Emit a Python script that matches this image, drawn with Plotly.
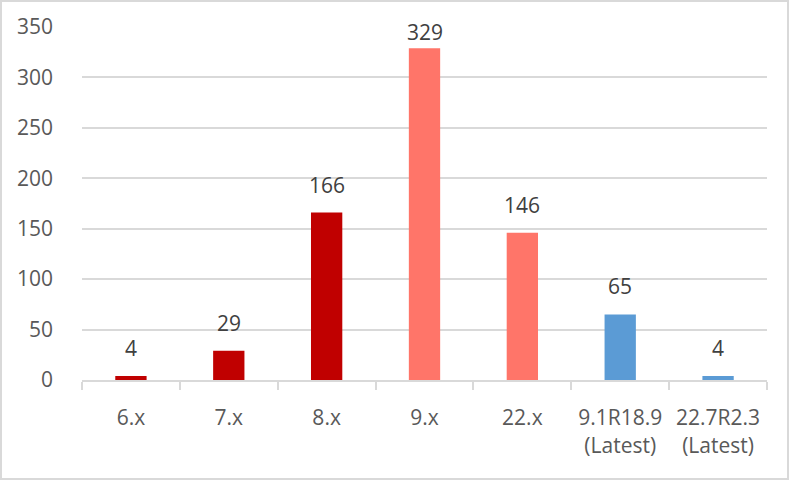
import plotly.graph_objects as go

categories = ["6.x", "7.x", "8.x", "9.x", "22.x", "9.1R18.9<br>(Latest)", "22.7R2.3<br>(Latest)"]
values = [4, 29, 166, 329, 146, 65, 4]
colors = ["#C00000", "#C00000", "#C00000", "#FF7569", "#FF7569", "#5B9BD5", "#5B9BD5"]
y_ticks = [0, 50, 100, 150, 200, 250, 300, 350]

W, H = 789, 480
ml, mr, mt, mb = 82, 22, 27, 100
FS = 21
Y_MAX = 350

fig = go.Figure(go.Bar(
    x=categories, y=values, marker_color=colors, marker_line_width=0,
    cliponaxis=False, hoverinfo="x+y",
))

pw, ph = W - ml - mr, H - mt - mb
ppu = ph / Y_MAX
for c, v in zip(categories, values):
    # keep labels near the plot top like the source chart does
    shift = min(12, (Y_MAX - v) * ppu - 21)
    fig.add_annotation(x=c, y=v, text=str(v), showarrow=False, yanchor="bottom",
                       yshift=shift, font=dict(size=FS, color="#404040"))

fig.add_shape(type="rect", xref="paper", yref="paper",
              x0=(-ml + 1) / pw, x1=(pw + mr - 1) / pw,
              y0=(-mb + 1) / ph, y1=(ph + mt - 1) / ph,
              line=dict(color="#D9D9D9", width=2), layer="below")

fig.update_layout(
    width=W, height=H, margin=dict(l=ml, r=mr, t=mt, b=mb),
    paper_bgcolor="white", plot_bgcolor="white",
    font=dict(family="Open Sans", size=FS, color="#595959"),
    bargap=0.68, showlegend=False,
)
fig.update_xaxes(type="category", showline=True, linecolor="#D9D9D9", linewidth=2,
                 ticks="outside", tickson="boundaries", ticklen=8, tickcolor="#D9D9D9",
                 tickwidth=2, ticklabelstandoff=18,
                 tickfont=dict(size=FS, color="#595959"), showgrid=False)
fig.update_yaxes(range=[0, Y_MAX], tickvals=y_ticks, showgrid=True, gridcolor="#D9D9D9",
                 gridwidth=1.5, zeroline=False, showline=False, ticks="",
                 ticklabelstandoff=28, tickfont=dict(size=FS, color="#595959"))

fig.write_html("out.html", config={"displayModeBar": False},
               post_script="document.body.style.margin='0';document.body.style.padding='0';")
